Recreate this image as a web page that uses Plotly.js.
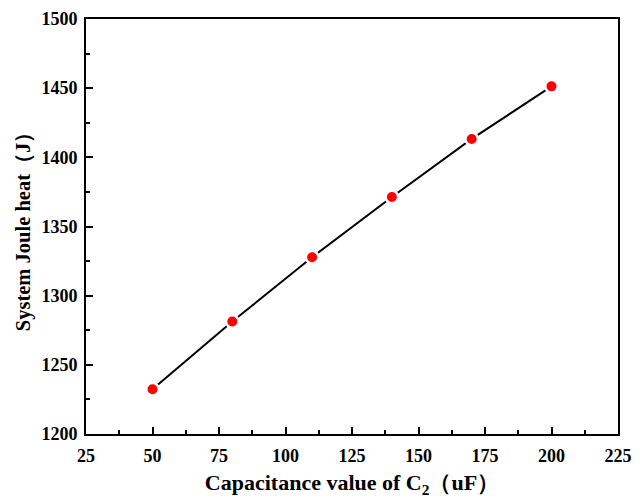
<!DOCTYPE html>
<html>
<head>
<meta charset="utf-8">
<script src="https://cdn.plot.ly/plotly-3.0.1.min.js"></script>
<style>html,body{margin:0;padding:0;background:#fff;}#chart{width:644px;height:499px;}</style>
</head>
<body>
<div id="chart"></div>
<script>
var capacitance = [50, 80, 110, 140, 170, 200];
var jouleHeat = [1232.3, 1281.3, 1327.8, 1371.3, 1413.3, 1451.3];
var xTickValues = [25, 50, 75, 100, 125, 150, 175, 200, 225];
var yTickValues = [1200, 1250, 1300, 1350, 1400, 1450, 1500];

var font = "'Liberation Serif', 'Times New Roman', serif";

var trace = {
  x: capacitance,
  y: jouleHeat,
  mode: 'lines+markers',
  line: {color: '#000000', width: 2},
  marker: {color: '#ff0000', size: 12.5, line: {color: '#ffffff', width: 2.5}},
  showlegend: false,
  hoverinfo: 'skip'
};

var axisCommon = {
  showgrid: false,
  zeroline: false,
  showline: true,
  linecolor: '#000000',
  linewidth: 2,
  mirror: true,
  ticks: 'inside',
  ticklen: 7,
  tickwidth: 2,
  tickcolor: '#000000',
  tickfont: {family: font, size: 18, color: '#000000', weight: 700}
};

var layout = {
  width: 644,
  height: 499,
  margin: {l: 86, r: 26, t: 19, b: 65},
  paper_bgcolor: '#ffffff',
  plot_bgcolor: '#ffffff',
  font: {family: font, color: '#000000'},
  xaxis: Object.assign({}, axisCommon, {
    range: [25, 225],
    tickmode: 'array',
    tickvals: xTickValues,
    ticktext: xTickValues.map(function (v) { return '<b>' + v + '</b>'; }),
    minor: {ticks: 'inside', ticklen: 4, tickwidth: 2, tickcolor: '#000000', tick0: 37.5, dtick: 25},
    ticklabelstandoff: 4,
    title: {text: '<b>Capacitance value of C<sub>2</sub>（uF）</b>', font: {family: font, size: 22, color: '#000000'}, standoff: 10}
  }),
  yaxis: Object.assign({}, axisCommon, {
    range: [1200, 1500],
    tickmode: 'array',
    tickvals: yTickValues,
    ticktext: yTickValues.map(function (v) { return '<b>' + v + '</b>'; }),
    minor: {ticks: 'inside', ticklen: 4, tickwidth: 2, tickcolor: '#000000', tick0: 1225, dtick: 50},
    ticklabelstandoff: 3,
    title: {text: '<b>System Joule heat（J）</b>', font: {family: font, size: 20.5, color: '#000000'}, standoff: 5}
  })
};

Plotly.newPlot('chart', [trace], layout, {displayModeBar: false, staticPlot: true});
</script>
</body>
</html>
